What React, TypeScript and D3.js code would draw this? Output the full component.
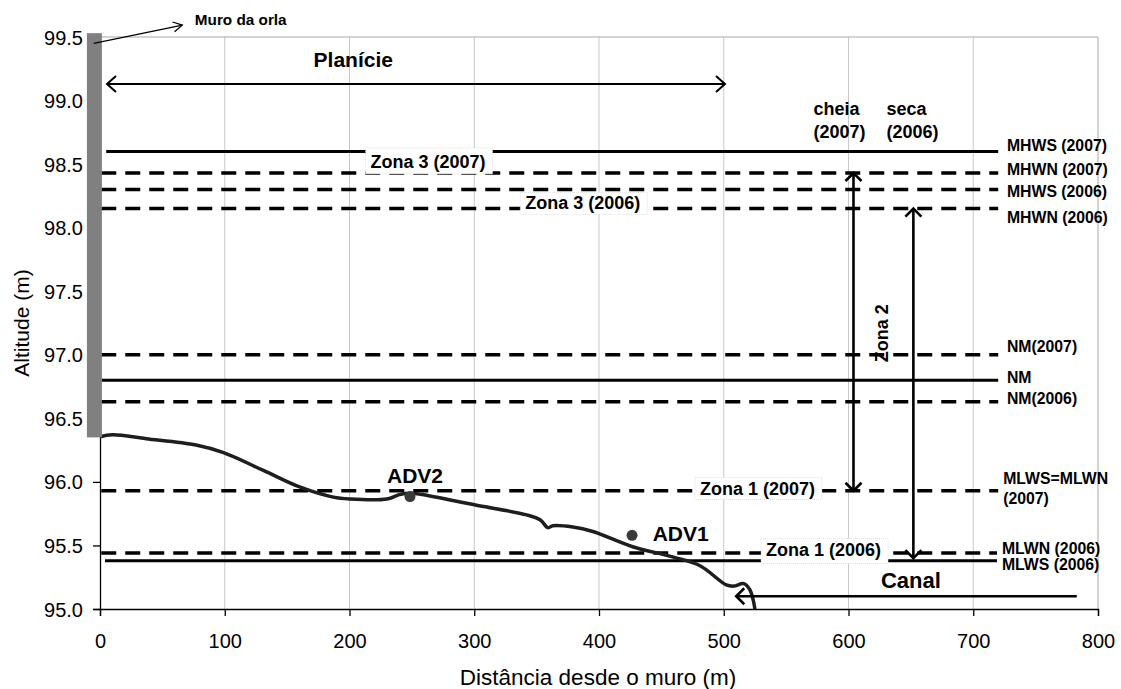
import React, { useEffect, useRef } from 'react';
import * as d3 from 'd3';

const W = 1121;
const H = 689;

const xTicks = [0, 100, 200, 300, 400, 500, 600, 700, 800];
const yTicks = [95.0, 95.5, 96.0, 96.5, 97.0, 97.5, 98.0, 98.5, 99.0, 99.5];

// Reference water levels
const levelNames = ['MHWS (2007)', 'MHWN (2007)', 'MHWS (2006)', 'MHWN (2006)', 'NM(2007)', 'NM', 'NM(2006)', 'MLWS=MLWN\n(2007)', 'MLWN (2006)', 'MLWS (2006)'];
const levelValues = [98.6, 98.43, 98.3, 98.15, 97.0, 96.8, 96.63, 95.93, 95.44, 95.38];
const levelSolid = [true, false, false, false, false, true, false, false, false, true];
const levelStart = [5, 1, 1, 1, 1, 1.5, 1, 1, 1, 4];
const levelEnd = [720, 720, 720, 720, 720, 720, 720, 720, 719, 719];
const labelAtY = [98.646, 98.454, 98.281, 98.084, 97.069, 96.825, 96.66, 95.95, 95.48, 95.354];
const labelAtX = [727, 727, 727, 727, 727, 727, 727, 724, 723, 723];

// Bed profile (distance m, altitude m)
const profileX = [0, 10, 37, 77, 99, 131, 160, 187, 200, 230, 240, 250, 258, 300, 342, 353, 359, 363, 379, 395, 427, 459, 481, 502, 508, 516, 521, 525];
const profileY = [96.355, 96.37, 96.34, 96.29, 96.23, 96.09, 95.96, 95.88, 95.865, 95.865, 95.9, 95.91, 95.9, 95.82, 95.74, 95.7, 95.64, 95.655, 95.645, 95.61, 95.49, 95.41, 95.34, 95.19, 95.18, 95.2, 95.15, 95.0];

// Instruments
const advNames = ['ADV2', 'ADV1'];
const advX = [248.5, 426.5];
const advY = [95.885, 95.58];

// Zone labels
const zoneNames = ['Zona 3 (2007)', 'Zona 3 (2006)', 'Zona 1 (2007)', 'Zona 1 (2006)'];
const zoneX = [263, 387, 527, 580];
const zoneY = [98.52, 98.2, 95.95, 95.47];
const zonePadTop = [4, 0, 1, 1];
const zonePadBottom = [2, 2, 1, 4];

export default function App() {
  const ref = useRef<SVGSVGElement>(null);

  useEffect(() => {
    const svg = d3.select(ref.current);
    svg.selectAll('*').remove();
    const font = '"Liberation Sans", Arial, sans-serif';
    const x = d3.scaleLinear().domain([0, 800]).range([100, 1098]);
    const y = d3.scaleLinear().domain([95, 99.5]).range([609, 37]);

    svg.append('rect').attr('width', W).attr('height', H).attr('fill', '#fff');

    // grid
    svg.append('g').selectAll('line')
      .data(xTicks.filter(t => t > 0 && t < 800)).join('line')
      .attr('x1', d => x(d)).attr('x2', d => x(d))
      .attr('y1', y(99.5)).attr('y2', y(95))
      .attr('stroke', '#c8c8c8').attr('stroke-width', 1);
    svg.append('path')
      .attr('d', `M${x(0)},${y(99.5)}H${x(800)}V${y(95)}`)
      .attr('fill', 'none').attr('stroke', '#a8a8a8').attr('stroke-width', 1);

    // level lines
    const lg = svg.append('g');
    levelValues.forEach((v, i) => {
      lg.append('line')
        .attr('x1', x(levelStart[i])).attr('x2', x(levelEnd[i]))
        .attr('y1', y(v)).attr('y2', y(v))
        .attr('stroke', '#000')
        .attr('stroke-width', levelSolid[i] ? 3 : 3.5)
        .attr('stroke-dasharray', levelSolid[i] ? null : '15,9');
      const parts = levelNames[i].split('\n');
      const t = lg.append('text')
        .attr('x', x(labelAtX[i]))
        .attr('y', y(labelAtY[i]))
        .attr('font-family', font).attr('font-weight', 'bold').attr('font-size', 15.8)
        .attr('fill', '#000');
      parts.forEach((p, k) => {
        t.append('tspan').attr('x', x(labelAtX[i]))
          .attr('dy', k === 0 ? `${0.35 - (parts.length - 1) * 0.65}em` : '1.3em')
          .text(p);
      });
    });

    // zone labels with white boxes
    const zg = svg.append('g');
    zoneNames.forEach((n, i) => {
      const g = zg.append('g');
      const r = g.append('rect');
      const t = g.append('text')
        .attr('x', x(zoneX[i])).attr('y', y(zoneY[i])).attr('dy', '0.35em')
        .attr('text-anchor', 'middle')
        .attr('font-family', font).attr('font-weight', 'bold').attr('font-size', 18)
        .attr('fill', '#000').text(n);
      const bb = (t.node() as SVGTextElement).getBBox();
      r.attr('x', bb.x - 5).attr('width', bb.width + 12)
        .attr('y', bb.y - zonePadTop[i]).attr('height', bb.height + zonePadTop[i] + zonePadBottom[i])
        .attr('fill', '#fff').attr('stroke', '#dadada').attr('stroke-width', 0.8)
        .attr('stroke-dasharray', '1,1');
    });

    // profile
    const line = d3.line<number>()
      .x((_, i) => x(profileX[i]))
      .y(d => y(d))
      .curve(d3.curveCatmullRom.alpha(0.5));
    svg.append('path').attr('d', line(profileY) as string)
      .attr('fill', 'none').attr('stroke', '#1e1e1e').attr('stroke-width', 3.5)
      .attr('stroke-linejoin', 'round');

    // ADV points
    advNames.forEach((n, i) => {
      svg.append('circle').attr('cx', x(advX[i])).attr('cy', y(advY[i])).attr('r', 5.5).attr('fill', '#3a3a3a');
    });
    const txt = (s: string, px: number, py: number, size: number, anchor = 'start', weight = 'bold') =>
      svg.append('text').attr('x', px).attr('y', py)
        .attr('font-family', font).attr('font-weight', weight).attr('font-size', size)
        .attr('text-anchor', anchor).attr('fill', '#000').text(s);
    txt('ADV2', x(252.5), y(95.99), 21, 'middle');
    txt('ADV1', x(443), y(95.535), 21, 'start');

    // arrows
    const head = (px: number, py: number, dx: number, dy: number, len: number, wid: number, sw: number) => {
      const nx = -dy, ny = dx;
      const bx = px - dx * len, by = py - dy * len;
      svg.append('path')
        .attr('d', `M${bx + nx * wid},${by + ny * wid}L${px},${py}L${bx - nx * wid},${by - ny * wid}`)
        .attr('fill', 'none').attr('stroke', '#000').attr('stroke-width', sw)
        .attr('stroke-linejoin', 'miter');
    };
    const seg = (x1: number, y1: number, x2: number, y2: number, sw: number) =>
      svg.append('line').attr('x1', x1).attr('y1', y1).attr('x2', x2).attr('y2', y2)
        .attr('stroke', '#000').attr('stroke-width', sw);

    // Planície
    const py = y(99.13);
    seg(x(5.6), py, x(501), py, 2);
    head(x(5.6), py, -1, 0, 9, 8, 2);
    head(x(501), py, 1, 0, 9, 8, 2);
    txt('Planície', x(203), y(99.32), 21, 'middle').attr('dy', '0.35em');

    // cheia / seca vertical arrows
    [[604, 98.43, 95.93], [652, 98.15, 95.4]].forEach(([ax, top, bot]) => {
      seg(x(ax), y(top), x(ax), y(bot), 2.6);
      head(x(ax), y(top), 0, -1, 8, 8, 2.6);
      head(x(ax), y(bot), 0, 1, 8, 8, 2.6);
    });
    txt('cheia', x(572), 115, 18);
    txt('(2007)', x(572), 138, 18);
    txt('seca', x(630.5), 115, 18);
    txt('(2006)', x(630.5), 138, 18);
    txt('Zona 2', 0, 0, 18, 'middle')
      .attr('transform', `translate(${x(627)},${y(97.17)}) rotate(-90)`).attr('dy', '0.35em');

    // Canal
    seg(x(510), y(95.1), x(783), y(95.1), 2.6);
    head(x(510), y(95.1), -1, 0, 8, 8, 2.6);
    txt('Canal', x(650), y(95.165), 22, 'middle');

    // axes
    const gx = svg.append('g').attr('transform', `translate(0,${y(95)})`)
      .call(d3.axisBottom(x).tickValues(xTicks).tickSize(7).tickFormat(d3.format('d')) as any);
    const gy = svg.append('g').attr('transform', `translate(${x(0)},0)`)
      .call(d3.axisLeft(y).tickValues(yTicks).tickSize(7).tickFormat(d3.format('.1f')) as any);
    [gx, gy].forEach(g => {
      g.select('.domain').attr('stroke', '#000').attr('stroke-width', 1.3);
      g.selectAll('.tick line').attr('stroke', '#000').attr('stroke-width', 1.3);
      g.selectAll('.tick text').attr('font-family', font).attr('font-size', 20).attr('fill', '#000');
    });
    gx.selectAll('.tick text').attr('y', 32).attr('dy', '0.35em');
    gy.selectAll('.tick text').attr('x', -17).attr('dy', '0.35em');

    // wall (over the axis)
    svg.append('rect')
      .attr('x', x(-10.5)).attr('width', x(1.5) - x(-10.5))
      .attr('y', y(99.53)).attr('height', y(96.35) - y(99.53))
      .attr('fill', '#808080');

    // Muro da orla
    seg(x(-5), y(99.45), x(66), y(99.594), 1.2);
    head(x(66), y(99.594), 0.978, -0.208, 9, 5, 1.2);
    txt('Muro da orla', x(76), y(99.594), 15.3);

    // axis titles
    txt('Distância desde o muro (m)', 598, 677, 22.5, 'middle', 'normal').attr('dy', '0.35em');
    txt('Altitude (m)', 0, 0, 21, 'middle', 'normal')
      .attr('transform', `translate(22,323) rotate(-90)`).attr('dy', '0.35em');
  }, []);

  return (
    <svg ref={ref} width={W} height={H}
      style={{ position: 'absolute', left: 0, top: 0, display: 'block' }} />
  );
}
